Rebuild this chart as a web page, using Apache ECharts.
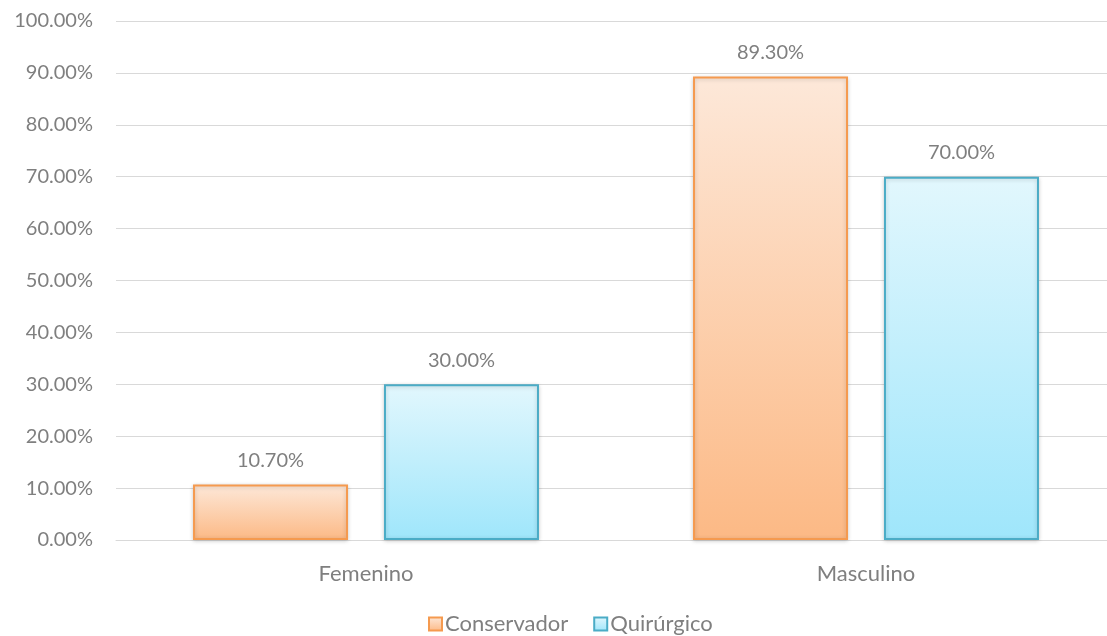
<!DOCTYPE html>
<html><head><meta charset="utf-8">
<script src="https://cdn.jsdelivr.net/npm/echarts@6/dist/echarts.min.js"></script>
<style>html,body{margin:0;padding:0;background:#fff}#c{width:1107px;height:636px}</style>
</head><body><div id="c"></div>
<script>
const categories = ['Femenino', 'Masculino'];
const conservador = [10.7, 89.3];
const quirurgico = [30.0, 70.0];
const seriesNames = ['Conservador', 'Quirúrgico'];

const font = 'Lato, "Open Sans", sans-serif';
const txt = '#7f7f7f';
const chart = echarts.init(document.getElementById('c'));
function grad(top, bottom) {
  return new echarts.graphic.LinearGradient(0, 0, 0, 1, [{offset: 0, color: top}, {offset: 1, color: bottom}]);
}
const fmt = v => v.toFixed(2) + '%';
chart.setOption({
  animation: false,
  grid: {left: 116, top: 21, width: 1000, height: 519, containLabel: false, outerBoundsMode: 'none'},
  legend: {
    data: seriesNames, left: 428, top: 613, padding: 0, icon: 'rect', itemWidth: 13, itemHeight: 13, itemGap: 25,
    textStyle: {color: txt, fontFamily: font, fontSize: 22, padding: [0, 0, 0, -2]}
  },
  xAxis: {
    type: 'category', data: categories,
    axisLine: {lineStyle: {color: '#d9d9d9', width: 1}},
    axisTick: {show: false},
    axisLabel: {color: txt, fontFamily: font, fontSize: 22, margin: 23}
  },
  yAxis: {
    type: 'value', min: 0, max: 100, interval: 10,
    axisLine: {show: false}, axisTick: {show: false},
    splitLine: {lineStyle: {color: '#d9d9d9', width: 1}},
    axisLabel: {color: txt, fontFamily: font, fontSize: 20, margin: 23, formatter: v => v.toFixed(2) + '%'}
  },
  series: [
    {
      name: seriesNames[0], type: 'bar', data: conservador, barWidth: 155, barGap: '23.2%',
      itemStyle: {color: grad('#fde8d9', '#fcb985'), borderColor: '#f59a4f', borderWidth: 2,
        shadowColor: 'rgba(0,0,0,0.18)', shadowBlur: 4, shadowOffsetY: 1},
      label: {show: true, position: 'top', distance: 14, color: txt, fontFamily: font, fontSize: 20, formatter: p => fmt(p.value)}
    },
    {
      name: seriesNames[1], type: 'bar', data: quirurgico, barWidth: 155,
      itemStyle: {color: grad('#e2f7fd', '#9fe6fb'), borderColor: '#4bacc6', borderWidth: 2,
        shadowColor: 'rgba(0,0,0,0.18)', shadowBlur: 4, shadowOffsetY: 1},
      label: {show: true, position: 'top', distance: 14, color: txt, fontFamily: font, fontSize: 20, formatter: p => fmt(p.value)}
    }
  ]
});
</script></body></html>
